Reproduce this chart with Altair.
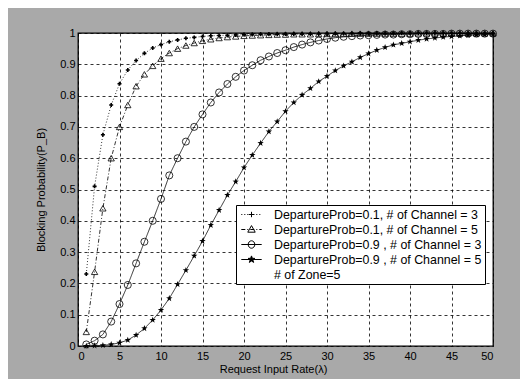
import altair as alt
import pandas as pd

# ---------------- data ----------------
x_vals = list(range(1, 51))

labels = [
    "DepartureProb=0.1, # of Channel = 3",
    "DepartureProb=0.1, # of Channel = 5",
    "DepartureProb=0.9 , # of Channel = 3",
    "DepartureProb=0.9 , # of Channel = 5",
]
note = "# of Zone=5"

s1 = [0.23, 0.51, 0.675, 0.77, 0.838, 0.882, 0.912, 0.935, 0.952, 0.963,
      0.972, 0.978, 0.983, 0.986, 0.989, 0.991, 0.992, 0.993, 0.994, 0.995,
      0.995, 0.996, 0.996, 0.996, 0.997, 0.997, 0.997, 0.997, 0.997, 0.998,
      0.998, 0.998, 0.998, 0.998, 0.998, 0.998, 0.998, 0.998, 0.999, 0.999,
      0.999, 0.999, 0.999, 0.999, 0.999, 0.999, 0.999, 0.999, 0.999, 0.999]

s2 = [0.045, 0.237, 0.44, 0.60, 0.70, 0.77, 0.83, 0.868, 0.895, 0.918,
      0.936, 0.95, 0.96, 0.968, 0.975, 0.98, 0.984, 0.987, 0.989, 0.991,
      0.992, 0.993, 0.994, 0.995, 0.995, 0.996, 0.996, 0.996, 0.997, 0.997,
      0.997, 0.997, 0.998, 0.998, 0.998, 0.998, 0.998, 0.998, 0.998, 0.998,
      0.999, 0.999, 0.999, 0.999, 0.999, 0.999, 0.999, 0.999, 0.999, 0.999]

s3 = [0.005, 0.017, 0.037, 0.078, 0.134, 0.195, 0.264, 0.333, 0.40, 0.47,
      0.545, 0.60, 0.653, 0.70, 0.74, 0.778, 0.81, 0.837, 0.86, 0.88,
      0.897, 0.913, 0.925, 0.936, 0.945, 0.955, 0.963, 0.97, 0.976, 0.981,
      0.985, 0.988, 0.99, 0.992, 0.993, 0.994, 0.995, 0.995, 0.996, 0.996,
      0.997, 0.997, 0.997, 0.997, 0.998, 0.998, 0.998, 0.998, 0.998, 0.998]

s4 = [0.0, 0.001, 0.002, 0.005, 0.01, 0.019, 0.035, 0.056, 0.083, 0.115,
      0.152, 0.197, 0.242, 0.288, 0.335, 0.386, 0.434, 0.482, 0.525, 0.57,
      0.61, 0.648, 0.685, 0.717, 0.75, 0.778, 0.802, 0.823, 0.845, 0.862,
      0.88, 0.895, 0.908, 0.922, 0.934, 0.945, 0.954, 0.962, 0.967, 0.972,
      0.977, 0.981, 0.984, 0.987, 0.989, 0.991, 0.993, 0.994, 0.995, 0.996]

x_ticks = list(range(0, 51, 5))
y_ticks = [round(i * 0.1, 1) for i in range(11)]

series = [s1, s2, s3, s4]
rows = []
for lab, ys in zip(labels, series):
    for xv, yv in zip(x_vals, ys):
        rows.append({"x": xv, "y": yv, "series": lab})
df = pd.DataFrame(rows)

# ---------------- styles ----------------
FONT = "Liberation Sans"
STAR = ("M0,-1L0.24,-0.33L0.95,-0.31L0.38,0.12L0.59,0.81L0,0.4L-0.59,0.81"
        "L-0.38,0.12L-0.95,-0.31L-0.24,-0.33Z")


def seg_line(half, pats):
    parts = []
    x = -half
    i = 0
    while x < half:
        a, b = pats[i % len(pats)]
        e = min(x + a, half)
        parts.append(f"M{x:.3f},0L{e:.3f},0")
        x = e + b
        i += 1
    return "".join(parts)


H = 1.7
leg_domain = labels + [note]
leg_paths = [
    seg_line(H, [(0.17, 0.33)]) + "M-0.45,0L0.45,0M0,-0.45L0,0.45",
    seg_line(H, [(0.67, 0.33), (0.17, 0.33)]) + "M0,-0.65L0.62,0.45L-0.62,0.45Z",
    f"M-{H},0L{H},0" + "M0.55,0A0.55,0.62 0 1,1 -0.55,0A0.55,0.62 0 1,1 0.55,0",
    f"M-{H},0L{H},0" + "M0,-0.6L0.144,-0.198L0.57,-0.186L0.228,0.072L0.354,0.486L0,0.24"
    "L-0.354,0.486L-0.228,0.072L-0.57,-0.186L-0.144,-0.198Z",
    "M0,0L0.01,0",
]
leg_fills = ["black", "transparent", "transparent", "black", "transparent"]
leg_strokes = ["black", "black", "black", "black", "transparent"]

line_dash = [[1, 2], [4, 2, 1, 2], [1, 0], [1, 0]]

X = alt.X("x:Q", scale=alt.Scale(domain=[0, 50], nice=False),
          axis=alt.Axis(values=x_ticks, title="Request Input Rate(\u03bb)",
                        titleX=195, titleY=17))
Y = alt.Y("y:Q", scale=alt.Scale(domain=[0, 1], nice=False),
          axis=alt.Axis(values=y_ticks, format="~g",
                        title="Blocking Probability(P_B)", titlePadding=13))

base = alt.Chart(df)
layers = []
for i, lab in enumerate(labels):
    sub = base.transform_filter(alt.datum.series == lab)
    layers.append(sub.mark_line(color="black", strokeWidth=0.8,
                                strokeDash=line_dash[i]).encode(x=X, y=Y))

pts_specs = [
    dict(shape="cross", filled=True, color="black", size=16),
    dict(shape="triangle-up", filled=False, color="black", size=40, strokeWidth=0.8),
    dict(shape="circle", filled=False, color="black", size=50, strokeWidth=0.8),
    dict(shape=STAR, filled=True, color="black", size=45),
]
for i, lab in enumerate(labels):
    sub = base.transform_filter(alt.datum.series == lab)
    layers.append(sub.mark_point(opacity=1, **pts_specs[i]).encode(x=X, y=Y))

leg = alt.Legend(
    title=None,
    orient="none", legendX=158, legendY=172,
    labelFont=FONT, labelFontSize=12.4, labelColor="black", labelLimit=400,
    labelOffset=16, symbolOffset=6, symbolSize=144, symbolStrokeWidth=1,
    rowPadding=2, padding=3,
    strokeColor="black", fillColor="white", cornerRadius=0,
)

legend_layer = base.transform_filter("false").mark_point(
    strokeWidth=1, size=144, opacity=1
).encode(
    x=X, y=Y,
    shape=alt.Shape("series:N", scale=alt.Scale(domain=leg_domain, range=leg_paths), legend=leg),
    fill=alt.Fill("series:N", scale=alt.Scale(domain=leg_domain, range=leg_fills), legend=leg),
    stroke=alt.Stroke("series:N", scale=alt.Scale(domain=leg_domain, range=leg_strokes), legend=leg),
)
layers.append(legend_layer)

chart = alt.layer(*layers).properties(
    width=415, height=313,
    autosize=alt.AutoSizeParams(type="none"),
    padding={"left": 70, "top": 25, "right": 27, "bottom": 33},
    background="#a9a9a9",
).configure_view(
    fill="white", stroke="black", strokeWidth=1.3
).configure_axis(
    grid=True, gridColor="black", gridDash=[3, 3], gridWidth=0.8, gridOpacity=1,
    domain=False, ticks=False,
    labelFont=FONT, labelFontSize=11, labelColor="black",
    titleFont=FONT, titleFontSize=11, titleColor="black", titleFontWeight="normal",
).configure_axisX(labelPadding=4).configure_axisY(labelPadding=3)

chart.save("out.html", embed_options={"renderer": "svg", "actions": False})
